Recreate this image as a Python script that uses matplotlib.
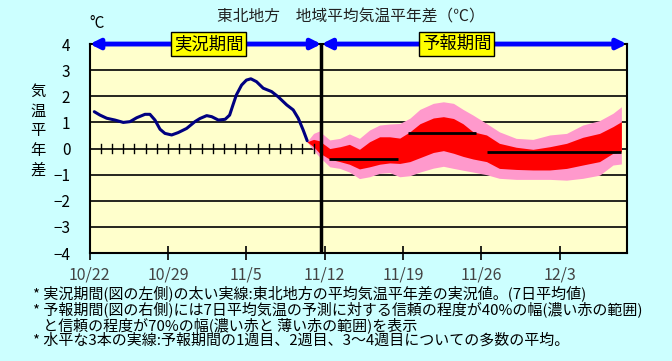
import numpy as np
import matplotlib
matplotlib.use('Agg')
import matplotlib.pyplot as plt

plt.rcParams['font.family'] = ['Noto Sans CJK JP', 'DejaVu Sans']
plt.rcParams['axes.unicode_minus'] = True

# 日付の目盛（10/22 を 0 日目とする）
tick_days = [0, 7, 14, 21, 28, 35, 42]
tick_labels = ['10/22', '10/29', '11/5', '11/12', '11/19', '11/26', '12/3']

# 実況値（7日平均気温平年差）
obs_day = [0.41, 0.92, 1.52, 2.26, 3.0, 3.6, 4.2, 4.94, 5.38, 5.83, 6.28, 6.72,
           7.32, 7.9, 8.66, 9.4, 9.85, 10.45, 10.9, 11.5, 12.1, 12.5, 12.8, 13.1,
           13.57, 14.0, 14.4, 14.9, 15.5, 16.25, 16.84, 17.6, 18.18, 18.63, 19.07,
           19.43]
obs_val = [1.41, 1.28, 1.16, 1.09, 1.0, 1.03, 1.18, 1.31, 1.31, 1.09, 0.74, 0.58,
           0.52, 0.61, 0.77, 1.03, 1.15, 1.26, 1.22, 1.09, 1.12, 1.28, 1.67, 2.05,
           2.43, 2.62, 2.67, 2.56, 2.31, 2.18, 1.98, 1.67, 1.48, 1.16, 0.71,
           0.3]

# 予測の信頼幅
fc_day = [19.4, 20.0, 20.5, 21.45, 22.35, 23.2, 24.1, 25.0, 25.9, 26.8, 27.7, 28.6,
          29.5, 30.7, 31.6, 32.5, 33.35, 34.25, 35.45, 36.6, 38.1, 39.6, 41.1, 42.6,
          44.05, 45.55, 46.75, 47.5]
p70_hi = [0.26, 0.58, 0.67, 0.33, 0.39, 0.56, 0.39, 0.71, 0.9, 0.94, 0.96, 1.16,
          1.5, 1.73, 1.79, 1.73, 1.5, 1.28, 0.96, 0.64, 0.39, 0.35, 0.52, 0.58,
          0.9, 1.07, 1.35, 1.6]
p40_hi = [0.26, 0.35, 0.3, 0.0, 0.07, 0.16, -0.03, 0.26, 0.45, 0.45, 0.4, 0.64,
          0.95, 1.17, 1.22, 1.15, 0.95, 0.64, 0.52, 0.2, 0.05, -0.03, 0.07, 0.2,
          0.43, 0.58, 0.84, 1.03]
p40_lo = [0.26, 0.07, -0.16, -0.41, -0.5, -0.6, -0.78, -0.7, -0.6, -0.55, -0.57, -0.5,
          -0.35, -0.15, -0.08, -0.18, -0.3, -0.4, -0.5, -0.76, -0.8, -0.82, -0.82, -0.76,
          -0.63, -0.5, -0.18, -0.12]
p70_lo = [0.26, -0.06, -0.31, -0.7, -0.76, -0.9, -1.15, -1.08, -0.95, -0.92, -1.08, -1.04,
          -0.9, -0.75, -0.68, -0.76, -0.83, -0.9, -1.0, -1.14, -1.18, -1.18, -1.18, -1.21,
          -1.14, -1.02, -0.63, -0.59]

# 1週目、2週目、3～4週目の多数の平均
week_start = [21.4, 28.4, 35.5]
week_end = [27.5, 34.55, 47.5]
week_mean = [-0.4, 0.6, -0.13]

split_day = 20.7
x_max = 48

fig = plt.figure(figsize=(6.72, 3.61), dpi=100)
fig.patch.set_facecolor('#CCFFFF')
ax = fig.add_axes([0.1335, 0.299, 0.933 - 0.1335, 0.878 - 0.299])
ax.set_facecolor('#FFFFCC')

# 横の格子線
for v in range(-3, 4):
    ax.axhline(v, color='black', lw=1.2, zorder=1)

ax.fill_between(fc_day, p70_lo, p70_hi, color='#FF99CC', lw=0, zorder=2)
ax.fill_between(fc_day, p40_lo, p40_hi, color='#FF0000', lw=0, zorder=3)
ax.plot(obs_day, obs_val, color='#000080', lw=2.2, zorder=4, solid_capstyle='round')
ax.hlines(week_mean, week_start, week_end, color='black', lw=2, zorder=5)

# 0 線上の日ごとの目盛
for d in range(1, 21):
    ax.plot([d, d], [-0.17, 0.17], color='black', lw=1, zorder=4)

ax.axvline(split_day, color='black', lw=2.5, zorder=6)

ax.set_xlim(0, x_max)
ax.set_ylim(-4, 4)
ax.set_yticks(range(-4, 5))
ax.set_yticklabels(['\u22124', '\u22123', '\u22122', '\u22121', '0', '1', '2', '3', '4'])
ax.set_xticks(tick_days)
ax.set_xticklabels(tick_labels)
ax.tick_params(axis='y', length=0, pad=14, labelsize=11)
ax.tick_params(axis='x', direction='inout', length=10, width=1.2, pad=5, labelsize=11.5,
               labelcolor='#444444')
for s in ax.spines.values():
    s.set_linewidth(1.5)
    s.set_color('black')

# 上の矢印（実況期間・予報期間）
arrow = dict(arrowstyle='<|-|>', color='#0000FF', lw=3.5, mutation_scale=14,
             shrinkA=0, shrinkB=0)
ax.annotate('', xy=(0, 4), xytext=(split_day, 4), arrowprops=arrow,
            annotation_clip=False, zorder=7)
ax.annotate('', xy=(split_day, 4), xytext=(x_max, 4), arrowprops=arrow,
            annotation_clip=False, zorder=7)
box = dict(boxstyle='square,pad=0.15', fc='#FFFF00', ec='black', lw=1)
ax.text(10.6, 4, '実況期間', ha='center', va='center', fontsize=12.5, bbox=box,
        zorder=8, clip_on=False)
ax.text(32.8, 4, '予報期間', ha='center', va='center', fontsize=12.5, bbox=box,
        zorder=8, clip_on=False)

fig.text(351 / 672, 1 - 17 / 361, '東北地方　地域平均気温平年差（℃）', ha='center',
         va='center', fontsize=11.3, color='#222222')
fig.text(97 / 672, 1 - 24 / 361, '°C', ha='center', va='center', fontsize=11)
fig.text(38 / 672, 1 - 131 / 361, '気\n温\n平\n年\n差', ha='center', va='center',
         fontsize=11, linespacing=1.2)

notes = [
    '* 実況期間(図の左側)の太い実線:東北地方の平均気温平年差の実況値。(7日平均値)',
    '* 予報期間(図の右側)には7日平均気温の予測に対する信頼の程度が40%の幅(濃い赤の範囲)',
    '   と信頼の程度が70%の幅(濃い赤と 薄い赤の範囲)を表示',
    '* 水平な3本の実線:予報期間の1週目、2週目、3～4週目についての多数の平均。',
]
note_y = [293.5, 309.5, 325, 340.5]
for t, yy in zip(notes, note_y):
    fig.text(33 / 672, 1 - yy / 361, t, ha='left', va='center', fontsize=10.8)

fig.savefig('out.png', dpi=100, facecolor=fig.get_facecolor())
